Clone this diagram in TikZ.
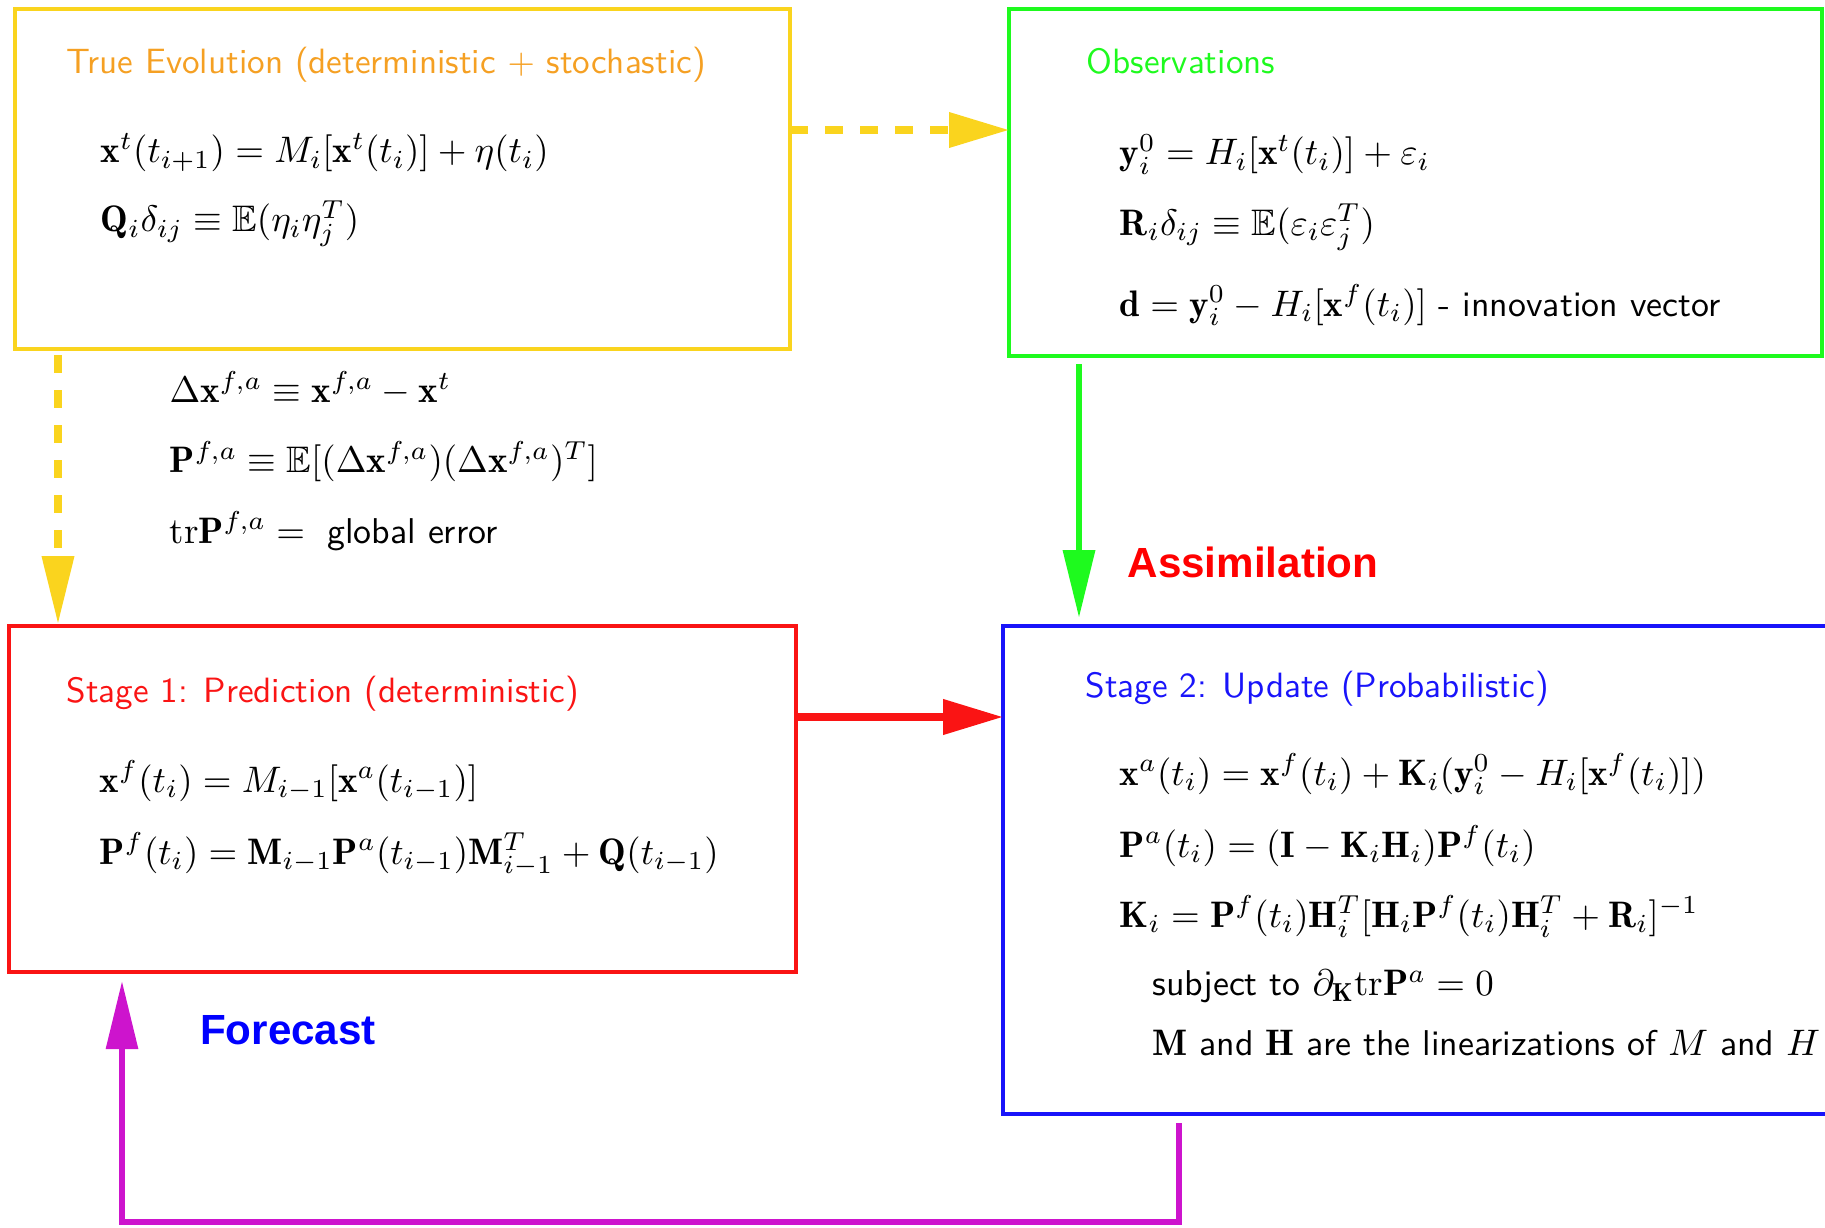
\RequirePackage{fix-cm}
\documentclass[tikz,border=0pt]{standalone}
\usepackage{amsmath,amssymb}
\usepackage{fontspec}
\newfontfamily\labelfont{Liberation Sans}
\usetikzlibrary{arrows.meta,positioning}
\definecolor{evolyellow}{RGB}{250,212,30}
\definecolor{evolorange}{RGB}{245,160,35}
\definecolor{obsgreen}{RGB}{30,250,30}
\definecolor{predred}{RGB}{250,20,20}
\definecolor{updblue}{RGB}{25,20,250}
\definecolor{loopmagenta}{RGB}{205,20,205}
\DeclareMathSizes{10.2}{10.5}{7.4}{5.3}
\newcommand{\eqlines}[1]{\begin{tabular}[t]{@{}l@{}}#1\end{tabular}}

\begin{document}
\begin{tikzpicture}[
  box/.style={draw, line width=1.3pt, anchor=north west, inner sep=0pt, outer sep=0pt},
  title/.style={anchor=base west, inner sep=0pt, font=\fontsize{10}{12}\selectfont\sffamily},
  eqs/.style={anchor=base west, inner sep=0pt, font=\fontsize{10.2}{20}\selectfont\sffamily},
  lbl/.style={inner sep=0pt, font=\fontsize{12}{14}\selectfont\labelfont\bfseries},
  flow/.style={-{Triangle[length=6mm,width=3.4mm]}, line width=2pt},
  vflow/.style={flow, -{Triangle[length=6.8mm,width=3.1mm]}},
  dashy/.style={draw=evolyellow, dash pattern=on 1.8mm off 1.7mm}
]
\useasboundingbox (0,0) rectangle (18.25,-12.27);
\clip (0,0) rectangle (18.25,-12.27);

\node[box, draw=evolyellow, minimum width=7.75cm, minimum height=3.40cm] (evol) at (0.15,-0.09) {};
\node[box, draw=obsgreen, minimum width=8.13cm, minimum height=3.47cm, right=21.9mm of evol.north east, anchor=north west] (obs) {};
\node[box, draw=predred, minimum width=7.87cm, minimum height=3.46cm, below=27.7mm of evol.south west, anchor=north west, xshift=-0.6mm] (pred) {};
\node[box, draw=updblue, minimum width=8.6cm, minimum height=4.88cm, below=27.0mm of obs.south west, anchor=north west, xshift=-0.6mm] (upd) {};

\node[title, text=evolorange] (evoltitle) at ([shift={(5.1mm,-6.5mm)}]evol.north west) {True Evolution (deterministic $+$ stochastic)};
\node[eqs] (evoleqs) at ([shift={(8.5mm,-15.4mm)}]evol.north west) {\eqlines{
  $\mathbf{x}^t(t_{i+1}) = M_i[\mathbf{x}^t(t_i)] + \eta(t_i)$\\[-0.5pt]
  $\mathbf{Q}_i\delta_{ij} \equiv \mathbb{E}(\eta_i\eta_j^T)$}};

\node[title, text=obsgreen] (obstitle) at ([shift={(7.7mm,-6.5mm)}]obs.north west) {Observations};
\node[eqs] (obseqs) at ([shift={(11.0mm,-15.6mm)}]obs.north west) {\eqlines{
  $\mathbf{y}_i^0 = H_i[\mathbf{x}^t(t_i)] + \varepsilon_i$\\
  $\mathbf{R}_i\delta_{ij} \equiv \mathbb{E}(\varepsilon_i\varepsilon_j^T)$\\[3pt]
  $\mathbf{d} = \mathbf{y}_i^0 - H_i[\mathbf{x}^f(t_i)]$ - innovation vector}};

\node[eqs] (errdefs) at ([shift={(15.4mm,-5.35mm)}]evol.south west) {\eqlines{
  $\Delta\mathbf{x}^{f,a} \equiv \mathbf{x}^{f,a} - \mathbf{x}^t$\\
  $\mathbf{P}^{f,a} \equiv \mathbb{E}[(\Delta\mathbf{x}^{f,a})(\Delta\mathbf{x}^{f,a})^T]$\\
  $\mathrm{tr}\mathbf{P}^{f,a} = {}$ global error}};

\node[title, text=predred] (predtitle) at ([shift={(5.7mm,-7.6mm)}]pred.north west) {Stage 1: Prediction (deterministic)};
\node[eqs] (predeqs) at ([shift={(9.0mm,-16.6mm)}]pred.north west) {\eqlines{
  $\mathbf{x}^f(t_i) = M_{i-1}[\mathbf{x}^a(t_{i-1})]$\\[0.5pt]
  $\mathbf{P}^f(t_i) = \mathbf{M}_{i-1}\mathbf{P}^a(t_{i-1})\mathbf{M}_{i-1}^T + \mathbf{Q}(t_{i-1})$}};

\node[title, text=updblue] (updtitle) at ([shift={(8.2mm,-7.1mm)}]upd.north west) {Stage 2: Update (Probabilistic)};
\node[eqs] (updeqs) at ([shift={(11.6mm,-15.9mm)}]upd.north west) {\eqlines{
  $\mathbf{x}^a(t_i) = \mathbf{x}^f(t_i) + \mathbf{K}_i(\mathbf{y}_i^0 - H_i[\mathbf{x}^f(t_i)])$\\[0.5pt]
  $\mathbf{P}^a(t_i) = (\mathbf{I} - \mathbf{K}_i\mathbf{H}_i)\mathbf{P}^f(t_i)$\\
  $\mathbf{K}_i = \mathbf{P}^f(t_i)\mathbf{H}_i^T[\mathbf{H}_i\mathbf{P}^f(t_i)\mathbf{H}_i^T + \mathbf{R}_i]^{-1}$\\[-0.5pt]
  \hspace*{3.3mm}subject to $\partial_{\mathbf{K}}\mathrm{tr}\mathbf{P}^a = 0$\\[-3pt]
  \hspace*{3.3mm}$\mathbf{M}$ and $\mathbf{H}$ are the linearizations of $M$ and $H$}};

\node[lbl, text=red] (assim) at (12.53,-5.62) {Assimilation};
\node[lbl, text=blue] (fcast) at (2.88,-10.30) {Forecast};

\draw[flow, dashy] ([yshift=4.9mm]evol.east) -- ([yshift=4.9mm]evol.east -| obs.west);
\draw[vflow, dashy, shorten <=0.6mm, shorten >=0.2mm] ([xshift=4.3mm]evol.south west) -- ([xshift=4.3mm]evol.south west |- pred.north);
\draw[vflow, obsgreen, line width=1.9pt, shorten <=0.8mm, shorten >=0.8mm] ([xshift=7mm]obs.south west) -- ([xshift=7mm]obs.south west |- upd.north);
\draw[flow, predred, line width=2.1pt] ([yshift=8.2mm]pred.east) -- ([yshift=8.2mm]pred.east -| upd.west);
\draw[vflow, loopmagenta, line width=1.7pt, shorten <=0.9mm, shorten >=0.9mm] ([xshift=17.6mm]upd.south west) -- ++(0,-10.8mm) -| ([xshift=11.3mm]pred.south west);
\end{tikzpicture}
\end{document}
